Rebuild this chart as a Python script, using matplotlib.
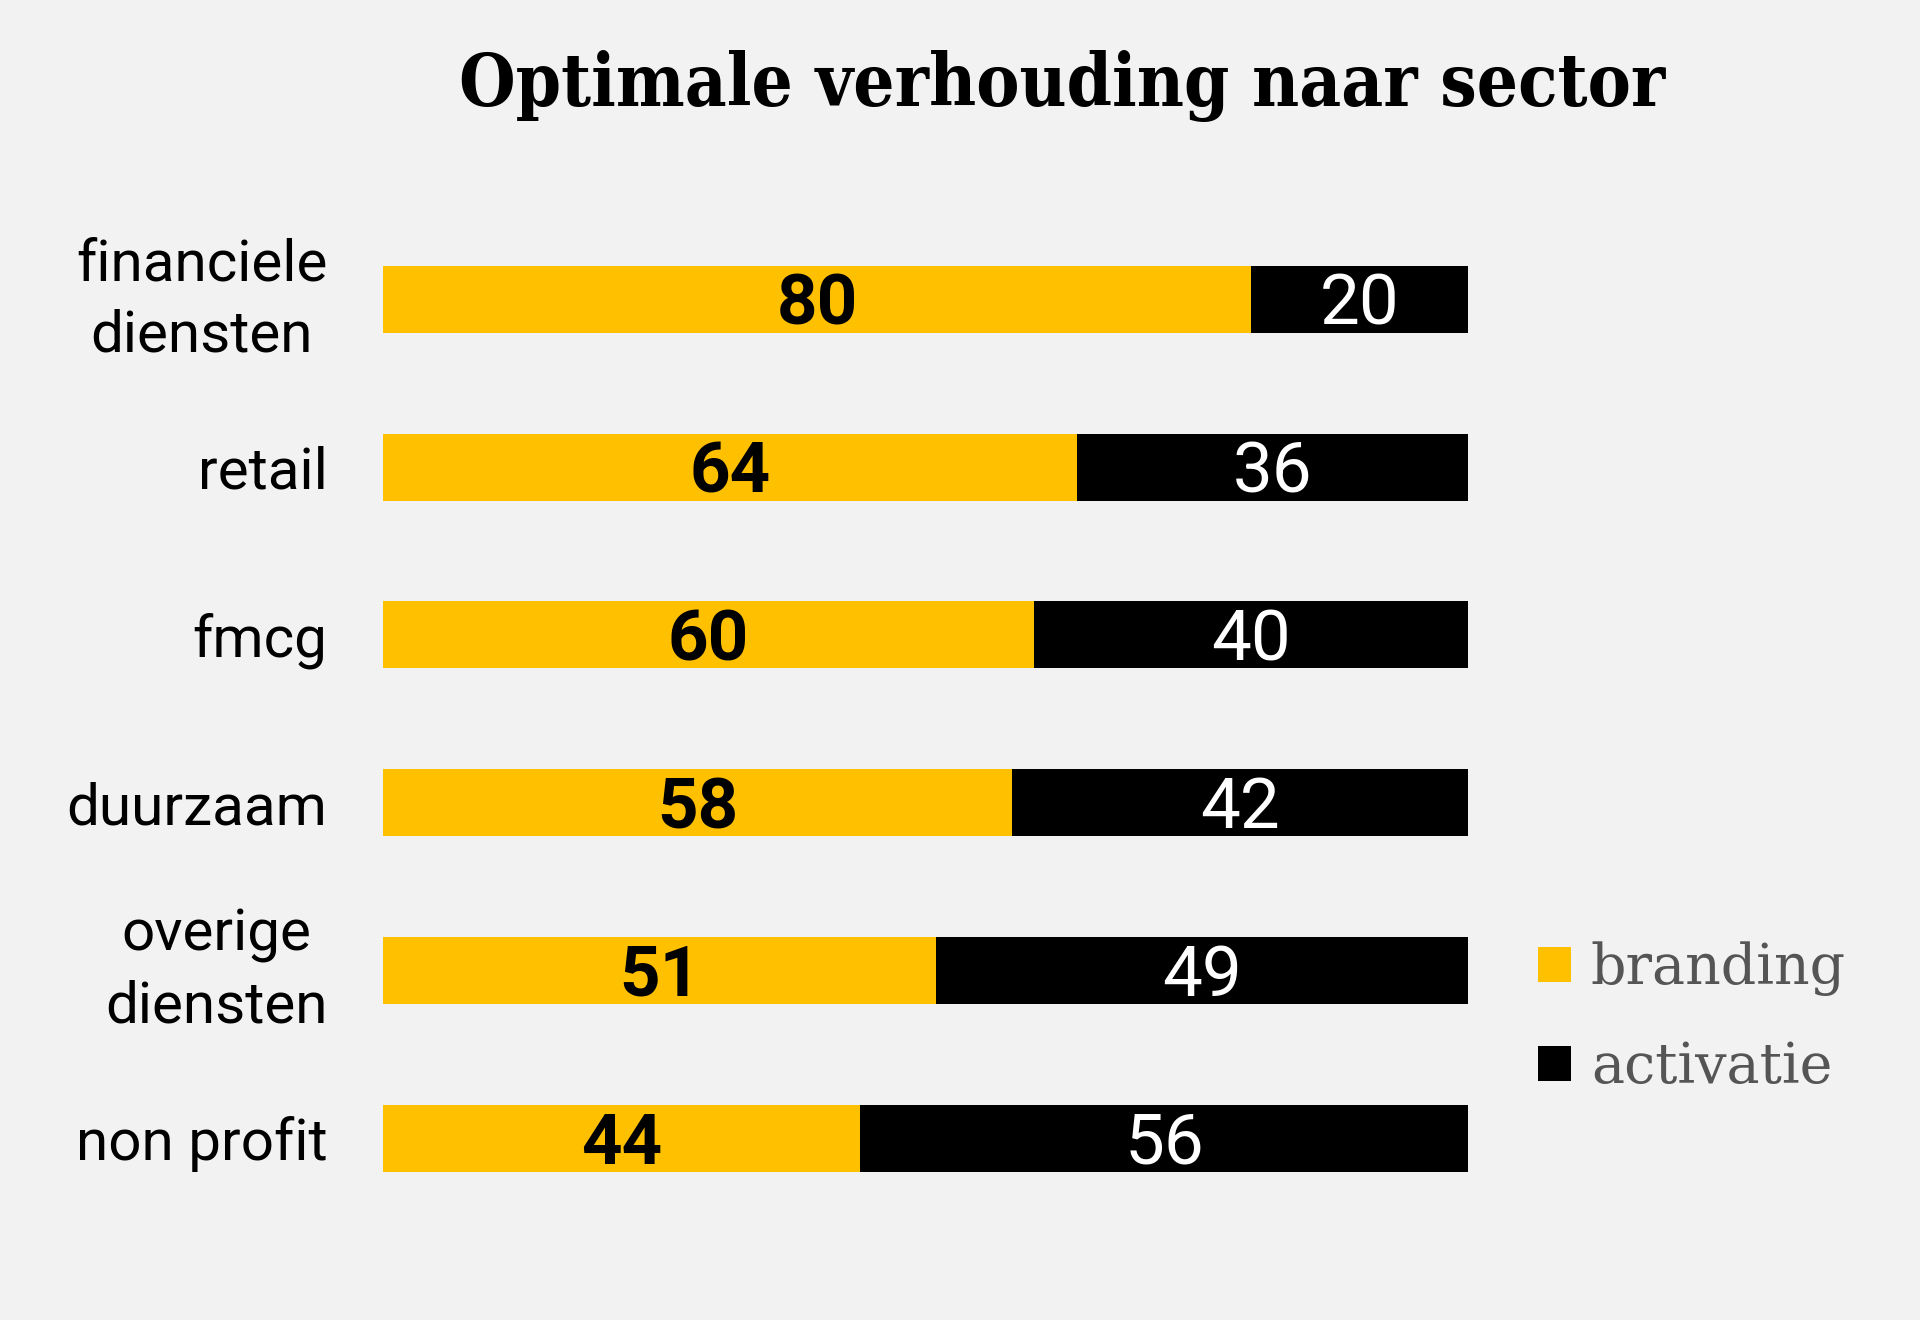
import matplotlib.pyplot as plt
import matplotlib.transforms as mtransforms
from matplotlib.patches import Patch

# data
sectoren = ['financiele\ndiensten', 'retail', 'fmcg', 'duurzaam', 'overige\ndiensten', 'non profit']
branding = [80, 64, 60, 58, 51, 44]
activatie = [20, 36, 40, 42, 49, 56]

geel = '#FFC000'
zwart = '#000000'
achtergrond = '#F2F2F2'

fig = plt.figure(figsize=(19.2, 13.2), dpi=100, facecolor=achtergrond)
ax = fig.add_axes([0.1995, 0.0742, 0.5651, 0.7625])
ax.set_facecolor(achtergrond)

y = list(range(len(sectoren)))
ax.barh(y, branding, height=0.4, color=geel, label='branding')
ax.barh(y, activatie, left=branding, height=0.4, color=zwart, label='activatie')

# waarden in de balken
for i in y:
    ax.text(branding[i] / 2, i + 0.035, str(branding[i]), ha='center', va='center',
            fontsize=51, fontweight='bold', family='Roboto', color='black')
    ax.text(branding[i] + activatie[i] / 2, i + 0.035, str(activatie[i]), ha='center', va='center',
            fontsize=51, family='Roboto', color='white')

ax.set_xlim(0, 100)
ax.set_ylim(len(sectoren) - 0.5, -0.5)
ax.set_xticks([])
ax.set_yticks(y)
ax.set_yticklabels(sectoren, fontsize=42, family='Roboto', multialignment='center',
                   linespacing=1.38)
ax.tick_params(axis='y', length=0, pad=40)
# labels met twee regels iets omhoog
for lbl in ax.get_yticklabels():
    if '\n' in lbl.get_text():
        lbl.set_transform(lbl.get_transform() +
                          mtransforms.ScaledTranslation(0, 0.13, fig.dpi_scale_trans))
for s in ax.spines.values():
    s.set_visible(False)

fig.text(0.553, 0.935, 'Optimale verhouding naar sector', ha='center', va='center',
         fontsize=52, fontweight='bold', family='DejaVu Serif', fontstretch='condensed')

handles = [Patch(facecolor=geel), Patch(facecolor=zwart)]
leg = fig.legend(handles, ['branding', 'activatie'], loc='upper left',
                 bbox_to_anchor=(0.775, 0.3245), frameon=False,
                 prop={'family': 'DejaVu Serif', 'size': 40},
                 labelcolor='#555555', handlelength=0.6, handleheight=0.6,
                 handletextpad=0.35, labelspacing=0.79)

fig.savefig('out.png', dpi=100, facecolor=achtergrond)
